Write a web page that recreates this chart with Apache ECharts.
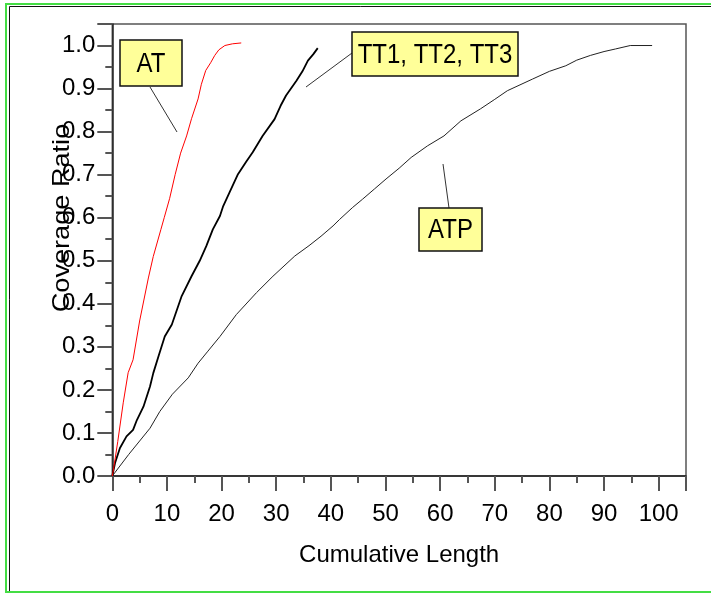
<!DOCTYPE html>
<html><head><meta charset="utf-8">
<script src="https://cdn.jsdelivr.net/npm/echarts@6/dist/echarts.min.js"></script>
<style>html,body{margin:0;padding:0;background:#fff}#c{width:711px;height:594px}</style>
</head><body><div id="c"></div>
<script>
// ---- data ----
const xLabelName = 'Cumulative Length';
const yLabelName = 'Coverage Ratio';
const seriesNames = ['AT', 'TT1, TT2, TT3', 'ATP'];
const atData = [[0,0],[0.2,0.014],[1,0.08],[2,0.17],[2.9,0.24],[3.8,0.27],[5,0.36],[6.6,0.46],[7.5,0.51],[8.9,0.573],[9.5,0.6],[10.5,0.645],[11.5,0.7],[12.5,0.75],[13.6,0.79],[14.5,0.83],[15.7,0.876],[16.3,0.91],[17.1,0.942],[18,0.96],[18.75,0.977],[19.5,0.99],[20.6,1.0],[22,1.004],[23.6,1.006]];
const ttData = [[0,0],[0.5,0.03],[1.4,0.065],[2.6,0.092],[3.8,0.107],[4.5,0.13],[5.7,0.161],[6.9,0.208],[7.5,0.239],[8.5,0.28],[9.6,0.324],[10.9,0.352],[12.7,0.418],[14.5,0.464],[16,0.5],[17.2,0.534],[18.4,0.573],[19.7,0.604],[20.3,0.627],[21.5,0.66],[23,0.701],[24.5,0.73],[25.7,0.752],[27.5,0.79],[29.7,0.829],[30.8,0.86],[31.8,0.884],[33.7,0.918],[34.8,0.94],[35.8,0.965],[36.8,0.98],[37.6,0.994]];
const atpData = [[0,0],[3,0.05],[6.9,0.111],[8.7,0.15],[11,0.19],[13.9,0.228],[15.7,0.262],[17.5,0.29],[19.7,0.324],[22.7,0.375],[26.4,0.426],[29.4,0.464],[33.4,0.511],[36,0.535],[38.2,0.557],[40.4,0.581],[41.6,0.596],[44,0.624],[45.8,0.643],[48,0.667],[50.1,0.69],[52.5,0.715],[54.7,0.74],[57.7,0.767],[60.7,0.79],[63.8,0.825],[67.4,0.853],[70,0.875],[72.3,0.895],[76.9,0.922],[80,0.94],[83,0.953],[85,0.966],[87.5,0.977],[90,0.986],[92.1,0.992],[94.8,1.0],[98.8,1.0]];
const xRange = [0, 105, 10];
const yRange = [0, 1.05, 0.1];

const FONT = '"Liberation Sans", Arial, sans-serif';
const chart = echarts.init(document.getElementById('c'), null, {renderer: 'canvas'});

function box(cx, cy, w, h, text) {
  return [
    {type: 'rect', shape: {x: cx - w/2, y: cy - h/2, width: w, height: h}, style: {fill: '#ffff99', stroke: '#111', lineWidth: 1.5}, z: 100},
    {type: 'text', x: cx, y: cy + 1, scaleY: 1.17, style: {text: text, font: '24px ' + FONT, fill: '#000', textAlign: 'center', textVerticalAlign: 'middle'}, z: 101}
  ];
}
function leader(x1, y1, x2, y2) {
  return {type: 'line', shape: {x1, y1, x2, y2}, style: {stroke: '#333', lineWidth: 1}, z: 99};
}

const option = {
  animation: false,
  backgroundColor: '#fff',
  grid: {left: 112.3, top: 24, right: 25, bottom: 118, show: true, borderColor: '#555', borderWidth: 1.5},
  xAxis: {
    type: 'value', min: xRange[0], max: xRange[1], interval: xRange[2],
    name: xLabelName, nameLocation: 'middle', nameGap: 67,
    nameTextStyle: {fontFamily: FONT, fontSize: 24, color: '#000'},
    axisLine: {show: true, onZero: false, lineStyle: {color: '#222', width: 1.5}},
    axisTick: {show: true, length: 15, lineStyle: {color: '#555', width: 2}},
    minorTick: {show: true, splitNumber: 2, length: 7, lineStyle: {color: '#555', width: 2}},
    splitLine: {show: false},
    axisLabel: {fontFamily: FONT, fontSize: 24, color: '#000', margin: 26, showMaxLabel: false}
  },
  yAxis: {
    type: 'value', min: yRange[0], max: yRange[1], interval: yRange[2],
    axisLine: {show: true, onZero: false, lineStyle: {color: '#222', width: 1.5}},
    axisTick: {show: true, length: 15, lineStyle: {color: '#555', width: 2}},
    minorTick: {show: true, splitNumber: 2, length: 7, lineStyle: {color: '#555', width: 2}},
    splitLine: {show: false},
    axisLabel: {fontFamily: FONT, fontSize: 24, color: '#000', margin: 17, showMaxLabel: false,
      formatter: v => v.toFixed(1)}
  },
  series: [
    {name: seriesNames[0], type: 'line', data: atData, showSymbol: false, lineStyle: {color: '#ff0000', width: 1}, z: 3},
    {name: seriesNames[1], type: 'line', data: ttData, showSymbol: false, lineStyle: {color: '#000', width: 1.8}, z: 2},
    {name: seriesNames[2], type: 'line', data: atpData, showSymbol: false, lineStyle: {color: '#222', width: 1}, z: 2}
  ],
  graphic: [
    {type: 'rect', shape: {x: 6, y: 4, width: 730, height: 588}, style: {fill: 'none', stroke: '#44dd44', lineWidth: 2}, z: 1, silent: true},
    {type: 'line', shape: {x1: 9.5, y1: 6.5, x2: 720, y2: 6.5}, style: {stroke: '#111', lineWidth: 1}},
    {type: 'line', shape: {x1: 9.5, y1: 6.5, x2: 9.5, y2: 592}, style: {stroke: '#111', lineWidth: 1}},
    {type: 'text', x: 62, y: 218, rotation: Math.PI / 2, scaleX: 1.13,
      style: {text: yLabelName, font: '24px ' + FONT, fill: '#000', textAlign: 'center', textVerticalAlign: 'middle'}, z: 50},
    leader(150, 87, 177, 132),
    leader(352, 53, 306, 87),
    leader(443, 164, 449, 208),
    ...box(151, 63, 62, 46, seriesNames[0]),
    ...box(435, 54, 166, 44, seriesNames[1]),
    ...box(450.5, 229.5, 63, 43, seriesNames[2])
  ]
};
chart.setOption(option);
</script></body></html>
